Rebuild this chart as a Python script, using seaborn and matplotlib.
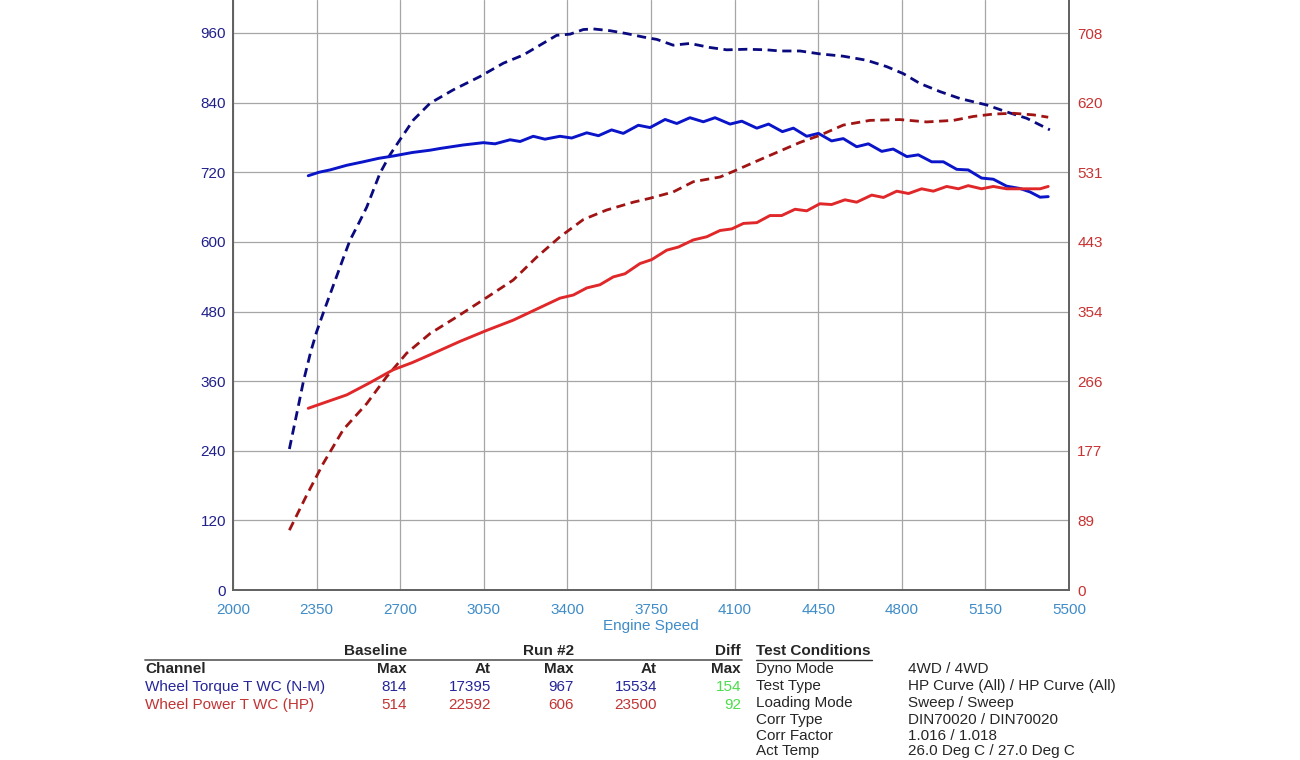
import matplotlib
matplotlib.use("Agg")
import matplotlib.pyplot as plt
from matplotlib.lines import Line2D
import seaborn as sns

# Dyno traces (x = engine speed, rpm)
torque_base_rpm = [2315, 2360, 2406, 2476, 2545, 2610, 2671, 2750, 2825, 2867, 2964, 3048,
                   3097, 3160, 3202, 3257, 3306, 3369, 3418, 3481, 3530, 3585, 3634, 3697,
                   3746, 3809, 3858, 3913, 3969, 4018, 4081, 4130, 4193, 4242, 4300, 4346,
                   4402, 4451, 4506, 4555, 4611, 4660, 4716, 4764, 4821, 4869, 4925, 4974,
                   5030, 5078, 5134, 5183, 5239, 5295, 5337, 5379, 5413]
torque_base = [714, 720, 724, 732, 738, 744, 748, 754, 758, 761, 767, 771,
               769, 776, 773, 782, 777, 782, 779, 788, 783, 793, 787, 801,
               797, 811, 804, 814, 807, 814, 803, 808, 796, 803, 790, 796,
               782, 787, 774, 778, 764, 769, 756, 760, 747, 750, 738, 738,
               725, 724, 710, 708, 696, 692, 686, 677, 678]

torque_run2_rpm = [2236, 2265, 2295, 2325, 2350, 2380, 2420, 2460, 2490, 2530, 2560, 2615,
                   2657, 2699, 2755, 2825, 2922, 3034, 3132, 3215, 3285, 3355, 3411, 3467,
                   3509, 3578, 3648, 3718, 3774, 3843, 3913, 3997, 4067, 4151, 4234, 4290,
                   4374, 4457, 4555, 4653, 4737, 4806, 4876, 4960, 5044, 5155, 5239, 5323, 5420]
torque_run2 = [243, 300, 360, 410, 445, 480, 525, 570, 603, 635, 660, 718,
               750, 776, 810, 839, 862, 885, 908, 922, 939, 956, 958, 966,
               967, 964, 959, 953, 949, 939, 942, 935, 931, 932, 931, 929,
               929, 924, 920, 913, 902, 890, 873, 859, 847, 836, 824, 813, 793]

power_base_rpm = [2315, 2400, 2476, 2570, 2671, 2750, 2825, 2950, 3062, 3173, 3271, 3369,
                  3425, 3481, 3536, 3592, 3641, 3704, 3753, 3816, 3865, 3927, 3983, 4039,
                  4088, 4137, 4193, 4248, 4297, 4353, 4402, 4457, 4506, 4562, 4611, 4674,
                  4723, 4779, 4828, 4883, 4932, 4988, 5037, 5078, 5134, 5183, 5239, 5295,
                  5351, 5379, 5413]
power_base = [231, 240, 248, 263, 280, 289, 299, 316, 330, 343, 357, 371,
              375, 384, 388, 398, 402, 415, 420, 432, 436, 445, 449, 457,
              459, 466, 467, 476, 476, 484, 482, 491, 490, 496, 493, 502,
              499, 507, 504, 510, 507, 513, 510, 514, 510, 513, 510, 510,
              510, 510, 513]

power_run2_rpm = [2236, 2306, 2378, 2462, 2560, 2643, 2727, 2825, 2936, 3048, 3173, 3271,
                  3369, 3467, 3564, 3676, 3746, 3843, 3927, 4039, 4109, 4206, 4290, 4374,
                  4457, 4555, 4667, 4792, 4904, 5016, 5100, 5183, 5267, 5351, 5413]
power_run2 = [76, 119, 161, 204, 237, 271, 301, 326, 347, 369, 394, 423,
              449, 471, 483, 493, 498, 506, 519, 525, 534, 547, 558, 569,
              578, 591, 597, 598, 595, 597, 602, 605, 606, 604, 601]

rpm_ticks = [2000, 2350, 2700, 3050, 3400, 3750, 4100, 4450, 4800, 5150, 5500]
nm_ticks = [0, 120, 240, 360, 480, 600, 720, 840, 960]
lbft_labels = ["0", "89", "177", "266", "354", "443", "531", "620", "708"]
NM_TO_LBFT = 0.737562

# summary table
channels = ["Wheel Torque T WC (N-M)", "Wheel Power T WC (HP)"]
base_max = ["814", "514"]
base_at = ["17395", "22592"]
run2_max = ["967", "606"]
run2_at = ["15534", "23500"]
diff_max = ["154", "92"]
cond_names = ["Dyno Mode", "Test Type", "Loading Mode", "Corr Type", "Corr Factor", "Act Temp"]
cond_values = ["4WD / 4WD", "HP Curve (All) / HP Curve (All)", "Sweep / Sweep",
               "DIN70020 / DIN70020", "1.016 / 1.018", "26.0 Deg C / 27.0 Deg C"]

sns.set_style("white")
plt.rcParams['font.family'] = ['Liberation Sans', 'DejaVu Sans']

W, H = 1300, 760
fig = plt.figure(figsize=(13, 7.6), dpi=100)
ax = fig.add_axes([233 / W, 1 - 590 / H, 836 / W, 590 / H])
ax2 = ax.twinx()

blue = "#0a14c8"
navy = "#0a0a80"
red = "#e0282a"
darkred = "#a01414"
dash = (0, (3.3, 2))

sns.lineplot(x=torque_run2_rpm, y=torque_run2, ax=ax, color=navy, linewidth=2.0, linestyle=dash)
sns.lineplot(x=torque_base_rpm, y=torque_base, ax=ax, color=blue, linewidth=2.1)
sns.lineplot(x=power_run2_rpm, y=power_run2, ax=ax2, color=darkred, linewidth=2.0, linestyle=dash)
sns.lineplot(x=power_base_rpm, y=power_base, ax=ax2, color=red, linewidth=2.1)

ytop = 590 / (557 / 960)
ax.set_xlim(2000, 5500)
ax.set_ylim(0, ytop)
ax2.set_ylim(0, ytop * NM_TO_LBFT)
ax.set_xticks(rpm_ticks)
ax.set_yticks(nm_ticks)
ax2.set_yticks([v * NM_TO_LBFT for v in nm_ticks])
ax2.set_yticklabels(lbft_labels)
ax.grid(True, color="#a6a6a6", linewidth=0.9)
ax.set_axisbelow(True)

ax.tick_params(axis="x", length=0, pad=9, labelsize=11, labelcolor="#3f8cc8")
ax.tick_params(axis="y", length=0, pad=5, labelsize=11, labelcolor="#20208c")
ax2.tick_params(axis="y", length=0, pad=6, labelsize=11, labelcolor="#c83232")
ax.set_xlabel("Engine Speed", fontsize=11, color="#3f8cc8", labelpad=2)
ax.set_ylabel("")
ax2.set_ylabel("")
for a in (ax, ax2):
    for s in a.spines.values():
        s.set_color("#606060")
        s.set_linewidth(1.2)
    a.spines["top"].set_visible(False)


def fx(px):
    return px / W


def fy(py):
    return 1 - py / H


fs = 11
bold = dict(fontsize=fs, fontweight="bold", va="center")
norm = dict(fontsize=fs, va="center")

fig.text(fx(407), fy(651), "Baseline", ha="right", **bold)
fig.text(fx(574), fy(651), "Run #2", ha="right", **bold)
fig.text(fx(741), fy(651), "Diff", ha="right", **bold)
fig.text(fx(756), fy(651), "Test Conditions", ha="left", **bold)
fig.add_artist(Line2D([fx(145), fx(742)], [fy(660), fy(660)], color="#666666", lw=1.3))
fig.add_artist(Line2D([fx(756), fx(872)], [fy(660), fy(660)], color="#333333", lw=1.0))

fig.text(fx(145), fy(669), "Channel", ha="left", **bold)
for xr, lab in zip([407, 491, 574, 657, 741], ["Max", "At", "Max", "At", "Max"]):
    fig.text(fx(xr), fy(669), lab, ha="right", **bold)

row_colors = ["#25259a", "#c23434"]
for i, ch in enumerate(channels):
    y = fy(687 + 18 * i)
    c = row_colors[i]
    fig.text(fx(145), y, ch, ha="left", color=c, **norm)
    fig.text(fx(407), y, base_max[i], ha="right", color=c, **norm)
    fig.text(fx(491), y, base_at[i], ha="right", color=c, **norm)
    fig.text(fx(574), y, run2_max[i], ha="right", color=c, **norm)
    fig.text(fx(657), y, run2_at[i], ha="right", color=c, **norm)
    fig.text(fx(741), y, diff_max[i], ha="right", color="#4cdc4c", **norm)

cond_y = [669, 686, 703, 720, 736, 751]
for yy, name, val in zip(cond_y, cond_names, cond_values):
    fig.text(fx(756), fy(yy), name, ha="left", **norm)
    fig.text(fx(908), fy(yy), val, ha="left", **norm)

fig.savefig("out.png", dpi=100)
